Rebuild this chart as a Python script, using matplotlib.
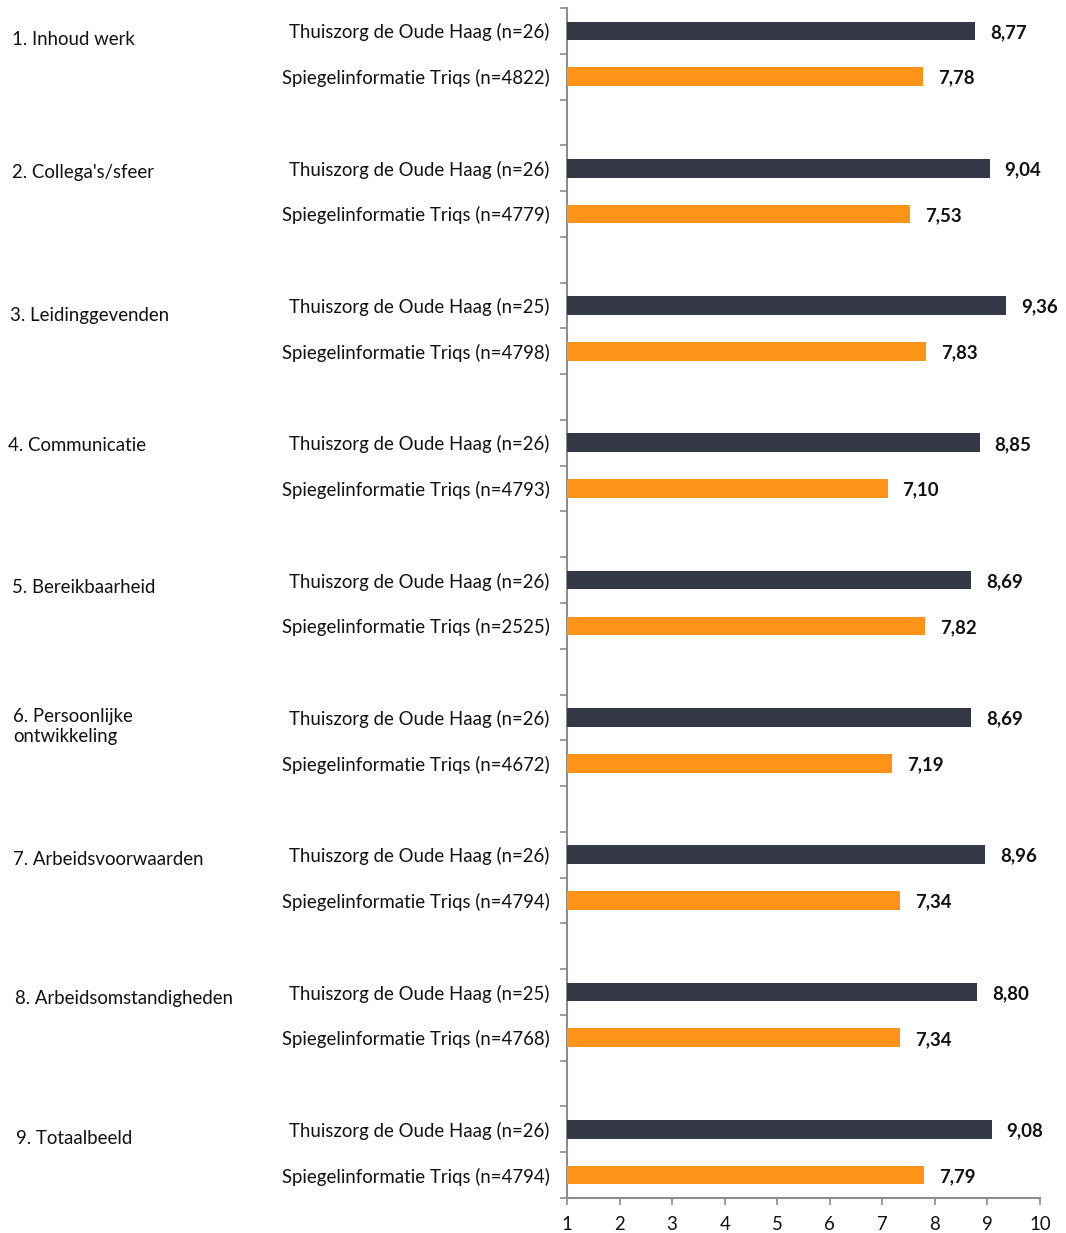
import matplotlib
matplotlib.use("Agg")
import matplotlib.pyplot as plt
from matplotlib import transforms

plt.rcParams['font.family'] = ['Lato', 'DejaVu Sans']

groups = ["1. Inhoud werk", "2. Collega's/sfeer", "3. Leidinggevenden",
          "4. Communicatie", "5. Bereikbaarheid", "6. Persoonlijke\nontwikkeling",
          "7. Arbeidsvoorwaarden", "8. Arbeidsomstandigheden", "9. Totaalbeeld"]
own_n = [26, 26, 25, 26, 26, 26, 26, 25, 26]
bench_n = [4822, 4779, 4798, 4793, 2525, 4672, 4794, 4768, 4794]
own_vals = [8.77, 9.04, 9.36, 8.85, 8.69, 8.69, 8.96, 8.80, 9.08]
bench_vals = [7.78, 7.53, 7.83, 7.10, 7.82, 7.19, 7.34, 7.34, 7.79]
own_name = "Thuiszorg de Oude Haag"
bench_name = "Spiegelinformatie Triqs"
x_ticks = [1, 2, 3, 4, 5, 6, 7, 8, 9, 10]

# layout tweaks for group label text boxes (pixels)
grp_x_px = [12, 12, 10, 8, 12, 13, 13, 15, 16]
grp_dy_px = [9, 4, 10, 3, 7, 9, 5, 6, 9]

DARK = '#343846'
ORANGE = '#FD9418'
SPINE = '#8C8C8C'
FS = 13.4

W, H = 1066, 1233
fig = plt.figure(figsize=(W / 100, H / 100), dpi=100)
ax = fig.add_axes([567 / W, 1 - 1198 / H, (1040 - 567) / W, (1198 - 8) / H])

n_slots = 3 * len(groups) - 1
own_pos = [3 * i for i in range(len(groups))]
bench_pos = [3 * i + 1 for i in range(len(groups))]
bh = 0.41

ax.barh(own_pos, [v - 1 for v in own_vals], left=1, height=bh, color=DARK, zorder=3)
ax.barh(bench_pos, [v - 1 for v in bench_vals], left=1, height=bh, color=ORANGE, zorder=3)

ax.set_xlim(1, 10)
ax.set_ylim(n_slots - 0.5, -0.5)

# value labels
off = transforms.offset_copy(ax.transData, fig=fig, x=15, y=-1.5, units='dots')
for p, v in zip(own_pos, own_vals):
    ax.text(v, p, f"{v:.2f}".replace('.', ','), transform=off, ha='left', va='center',
            fontsize=FS, fontweight='bold', color='#111111')
for p, v in zip(bench_pos, bench_vals):
    ax.text(v, p, f"{v:.2f}".replace('.', ','), transform=off, ha='left', va='center',
            fontsize=FS, fontweight='bold', color='#111111')

# y ticks at slot boundaries
ax.set_yticks([i - 0.5 for i in range(n_slots + 1)])
ax.set_yticklabels([])
ax.set_yticks(own_pos + bench_pos, minor=True)
ax.set_yticklabels([f"{own_name} (n={n})" for n in own_n] +
                   [f"{bench_name} (n={n})" for n in bench_n], minor=True)
ax.tick_params(axis='y', which='minor', length=0, pad=12.5, labelsize=FS, labelcolor='#111111')
ax.tick_params(axis='y', which='major', length=5, width=1.2, color=SPINE, direction='out')

ax.set_xticks(x_ticks)
ax.tick_params(axis='x', length=5, width=1.2, color=SPINE, direction='out', labelsize=FS,
               labelcolor='#111111', pad=8)

for s in ['top', 'right']:
    ax.spines[s].set_visible(False)
for s in ['left', 'bottom']:
    ax.spines[s].set_color(SPINE)
    ax.spines[s].set_linewidth(1.5)

# group labels
tr = transforms.blended_transform_factory(fig.transFigure, ax.transData)
for i, g in enumerate(groups):
    t = transforms.offset_copy(tr, fig=fig, x=grp_x_px[i], y=-grp_dy_px[i], units='dots')
    ax.text(0, own_pos[i], g, transform=t, ha='left', va='center', fontsize=FS,
            color='#111111', linespacing=1.25)

fig.savefig('out.png', dpi=100)
